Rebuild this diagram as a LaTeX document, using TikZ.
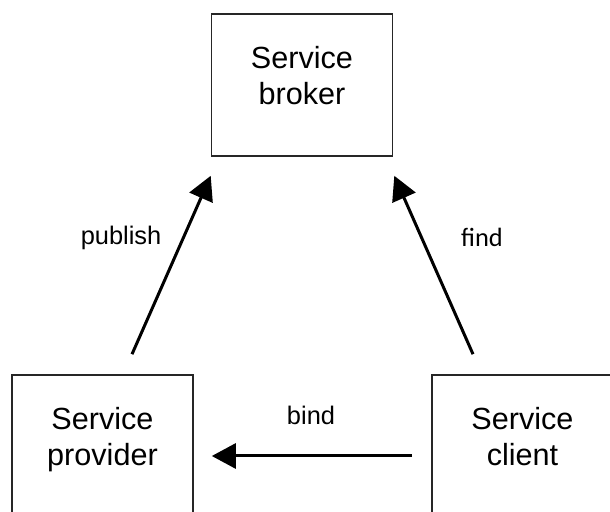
\documentclass[tikz,border=0pt]{standalone}
\usepackage{fontspec}
\setmainfont{Liberation Sans}
\newfontfamily\calibrifont{Carlito}
\usetikzlibrary{arrows.meta,positioning}

\tikzset{
  svcbox/.style={draw=black!85, line width=0.8pt, minimum width=90.5pt, minimum height=71pt, inner sep=0pt},
  svctext/.style={font=\fontsize{15.3}{18}\selectfont, align=center, inner sep=0pt, anchor=north},
  lbl/.style={font=\fontsize{12.7}{15}\selectfont, anchor=base, inner sep=0pt},
  flow/.style={line width=1.5pt, -{Triangle[length=12pt,width=12.5pt]}}
}

\begin{document}
\begin{tikzpicture}[x=0.5pt,y=-0.5pt]
  \clip (0,0) rectangle (610,512);

  % the three parties
  \node[svcbox] (broker) at (302,85) {};
  \node[svcbox] (provider) at (102.5,446) {};
  \node[svcbox] (client) at (522.5,446) {};
  \node[svctext] (brokertext) at ([yshift=-16.5pt]broker.north) {Service\\broker};
  \node[svctext] (providertext) at ([yshift=-16.5pt]provider.north) {Service\\provider};
  \node[svctext] (clienttext) at ([yshift=-16.5pt]client.north) {Service\\client};

  % interactions
  \draw[flow] ([shift={(29.5,-20)}]provider.north) -- ([shift={(0,19)}]broker.south west);
  \draw[flow] ([shift={(-49.5,-20)}]client.north) -- ([shift={(1,19)}]broker.south east);
  \draw[flow] ([shift={(-19,10)}]client.west) -- ([shift={(18,10)}]provider.east);

  \node[lbl] (publishlbl) at (121,245) {publish};
  \node[lbl, font=\calibrifont\fontsize{13.2}{15}\selectfont] (findlbl) at (482,247) {find};
  \node[lbl] (bindlbl) at (311,425) {bind};
\end{tikzpicture}
\end{document}
